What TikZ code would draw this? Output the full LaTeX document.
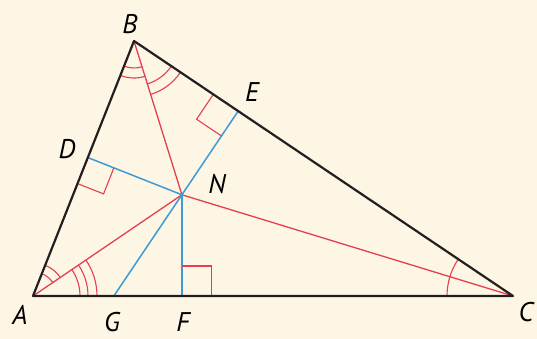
\documentclass[tikz,border=0pt]{standalone}
\usepackage{fontspec}
\setmainfont{PT Sans}
\usetikzlibrary{calc,angles}
\definecolor{bgcream}{RGB}{253,246,228}
\definecolor{segred}{RGB}{230,62,80}
\definecolor{segblue}{RGB}{60,155,210}
\definecolor{sideblack}{RGB}{35,31,32}

\begin{document}
\begin{tikzpicture}[x=1pt, y=1pt,
    triside/.style={sideblack, line width=2.2pt, line join=round},
    bisect/.style={segred, line width=1.3pt},
    perpline/.style={segblue, line width=1.5pt},
    tickarc/.style={draw=segred, line width=1.1pt},
    rightmark/.style={segred, line width=1.1pt},
    lbl/.style={font=\fontsize{27}{27}\selectfont\itshape, inner sep=0pt}]
    % background
    \fill[bgcream] (0,0) rectangle (537,339);
    \useasboundingbox (0,0) rectangle (537,339);
    % vertices and incenter
    \coordinate (A) at (33,43);
    \coordinate (B) at (134,298);
    \coordinate (C) at (513,43);
    \coordinate (N) at (181.9,144.2);
    % feet of the perpendiculars
    \coordinate (D) at ($(A)!(N)!(B)$);
    \coordinate (E) at ($(B)!(N)!(C)$);
    \coordinate (F) at ($(A)!(N)!(C)$);
    \coordinate (G) at (intersection of E--N and A--C);
    % angle bisectors
    \draw[bisect] (A) -- (N);
    \draw[bisect] (B) -- (N);
    \draw[bisect] (C) -- (N);
    % perpendiculars
    \draw[perpline] (D) -- (N);
    \draw[perpline] (G) -- (E);
    \draw[perpline] (N) -- (F);
    % right angle marks
    \coordinate (Da) at ($(D)!28pt!(A)$);
    \coordinate (Dn) at ($(D)!28pt!(N)$);
    \draw[rightmark] (Da) -- ($(Da)+(Dn)-(D)$) -- (Dn);
    \coordinate (Eb) at ($(E)!30pt!(B)$);
    \coordinate (En) at ($(E)!30pt!(N)$);
    \draw[rightmark] (Eb) -- ($(Eb)+(En)-(E)$) -- (En);
    \coordinate (Fc) at ($(F)!30pt!(C)$);
    \coordinate (Fn) at ($(F)!30pt!(N)$);
    \draw[rightmark] (Fc) -- ($(Fc)+(Fn)-(F)$) -- (Fn);
    % equal angle marks
    \pic[tickarc, angle radius=24pt] {angle=N--A--B};
    \pic[tickarc, angle radius=33pt] {angle=N--A--B};
    \pic[tickarc, angle radius=47pt] {angle=C--A--N};
    \pic[tickarc, angle radius=55pt] {angle=C--A--N};
    \pic[tickarc, angle radius=64pt] {angle=C--A--N};
    \pic[tickarc, angle radius=27pt] {angle=A--B--N};
    \pic[tickarc, angle radius=37pt] {angle=A--B--N};
    \pic[tickarc, angle radius=45pt] {angle=N--B--C};
    \pic[tickarc, angle radius=56pt] {angle=N--B--C};
    \pic[tickarc, angle radius=66pt] {angle=B--C--A};
    % triangle
    \draw[triside] (A) -- (B) -- (C) -- cycle;
    % labels
    \node[lbl] (labA) at (20,24) {A};
    \node[lbl] (labB) at (130,315) {B};
    \node[lbl] (labC) at (526,27) {C};
    \node[lbl] (labD) at (67,190) {D};
    \node[lbl] (labE) at (252,247) {E};
    \node[lbl] (labF) at (183,17) {F};
    \node[lbl] (labG) at (112,17) {G};
    \node[lbl] (labN) at (217,155) {N};
\end{tikzpicture}
\end{document}
